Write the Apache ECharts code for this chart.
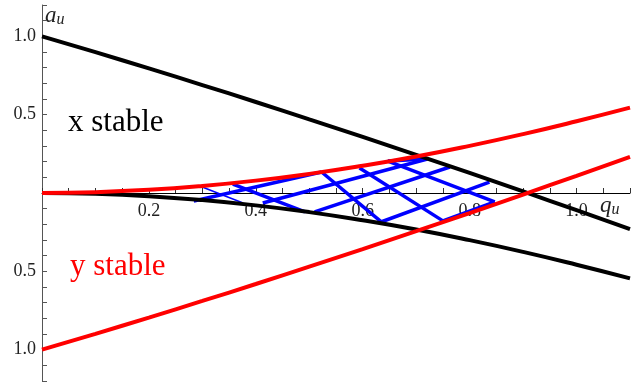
<!DOCTYPE html>
<html>
<head>
<meta charset="utf-8">
<script src="https://cdn.jsdelivr.net/npm/echarts@6/dist/echarts.min.js"></script>
<style>
  html, body { margin: 0; padding: 0; background: #fff; }
  #chart { width: 632px; height: 385px; }
</style>
</head>
<body>
<div id="chart"></div>
<script>
// q values sampled along the boundaries
const qValues = [0, 0.1, 0.2, 0.3, 0.4, 0.5, 0.6, 0.7, 0.8, 0.9, 1.0, 1.1]
// x stability boundaries (black)
const xUpper = [1.0, 0.899, 0.795, 0.689, 0.581, 0.470, 0.358, 0.244, 0.128, 0.010, -0.110, -0.231]
const xLower = [0, -0.005, -0.020, -0.045, -0.079, -0.122, -0.174, -0.233, -0.301, -0.376, -0.458, -0.545]
// y stability boundaries (red)
const yUpper = [0, 0.005, 0.020, 0.045, 0.079, 0.122, 0.174, 0.233, 0.301, 0.376, 0.458, 0.545]
const yLower = [-1.0, -0.899, -0.795, -0.689, -0.581, -0.470, -0.358, -0.244, -0.128, -0.010, 0.110, 0.231]

// blue grid segments [q, a] -> [q, a]
const fallingSegments = [
  [[0.295, 0.045], [0.376, -0.064]],
  [[0.357, 0.057], [0.492, -0.121]],
  [[0.523, 0.134], [0.637, -0.191]],
  [[0.594, 0.159], [0.750, -0.178]],
  [[0.647, 0.204], [0.847, -0.057]]
]
const risingSegments = [
  [[0.284, -0.051], [0.523, 0.134]],
  [[0.413, -0.064], [0.721, 0.217]],
  [[0.510, -0.121], [0.763, 0.166]],
  [[0.634, -0.185], [0.837, 0.070]],
  [[0.750, -0.178], [0.847, -0.057]],
  [[0.647, 0.204], [0.721, 0.217]]
]

const xTickLabels = [0.2, 0.4, 0.6, 0.8, 1.0]
const yTickLabels = [-1.0, -0.5, 0.5, 1.0]

const serif = '"Liberation Serif", "DejaVu Serif", serif'

const chart = echarts.init(document.getElementById('chart'))

const zip = (ys) => qValues.map((q, i) => [q, ys[i]])

const blueSeries = []
fallingSegments.forEach((seg, i) => {
  blueSeries.push({
    type: 'line', data: seg, showSymbol: false, silent: true,
    lineStyle: { color: '#0000ff', width: i === 0 ? 1.5 : 3.5 }, z: 2
  })
})
risingSegments.forEach(seg => {
  blueSeries.push({
    type: 'line', data: seg, showSymbol: false, silent: true,
    lineStyle: { color: '#0000ff', width: 3.5 }, z: 2
  })
})

const boundary = (ys, color) => ({
  type: 'line', data: zip(ys), smooth: true, showSymbol: false, silent: true,
  lineStyle: { color: color, width: 4 }, z: 3
})

// grid is 376px tall and symmetric in a, so a = 0 sits 188px above the bottom
chart.setOption({
  animation: false,
  grid: { left: 42, right: 2, top: 5, bottom: 4, containLabel: false, outerBoundsMode: 'none' },
  xAxis: {
    type: 'value', min: 0, max: 1.1, interval: 0.05,
    position: 'bottom', offset: -188,
    axisLine: { onZero: false, lineStyle: { color: '#000', width: 1 } },
    axisTick: { inside: true, length: 5, lineStyle: { color: '#333' } },
    splitLine: { show: false },
    axisLabel: {
      margin: 9, color: '#222', fontFamily: serif, fontSize: 18,
      formatter: v => xTickLabels.some(t => Math.abs(t - v) < 1e-6) ? v.toFixed(1) : ''
    }
  },
  yAxis: {
    type: 'value', min: -1.2, max: 1.2, interval: 0.1,
    axisLine: { onZero: false, lineStyle: { color: '#555', width: 1 } },
    axisTick: { inside: true, length: 5, lineStyle: { color: '#555' } },
    splitLine: { show: false },
    axisLabel: {
      margin: 6, color: '#222', fontFamily: serif, fontSize: 18,
      formatter: v => yTickLabels.some(t => Math.abs(t - v) < 1e-6) ? Math.abs(v).toFixed(1) : ''
    }
  },
  graphic: [
    {
      type: 'text', left: 45, top: 4,
      style: {
        text: '{i|a}{s|u}',
        rich: {
          i: { fontFamily: serif, fontStyle: 'italic', fontSize: 23, fill: '#222' },
          s: { fontFamily: serif, fontStyle: 'italic', fontSize: 16, fill: '#222', padding: [9, 0, 0, 0] }
        }
      }
    },
    {
      type: 'text', left: 600, top: 194,
      style: {
        text: '{i|q}{s|u}',
        rich: {
          i: { fontFamily: serif, fontStyle: 'italic', fontSize: 23, fill: '#222' },
          s: { fontFamily: serif, fontStyle: 'italic', fontSize: 16, fill: '#222', padding: [9, 0, 0, 0] }
        }
      }
    },
    {
      type: 'text', left: 68, top: 107,
      style: { text: 'x stable', fontFamily: serif, fontSize: 31, fill: '#000' }
    },
    {
      type: 'text', left: 70, top: 251,
      style: { text: 'y stable', fontFamily: serif, fontSize: 31, fill: '#ff0000' }
    }
  ],
  series: [
    ...blueSeries,
    boundary(xUpper, '#000'),
    boundary(xLower, '#000'),
    boundary(yUpper, '#ff0000'),
    boundary(yLower, '#ff0000')
  ]
})
</script>
</body>
</html>
